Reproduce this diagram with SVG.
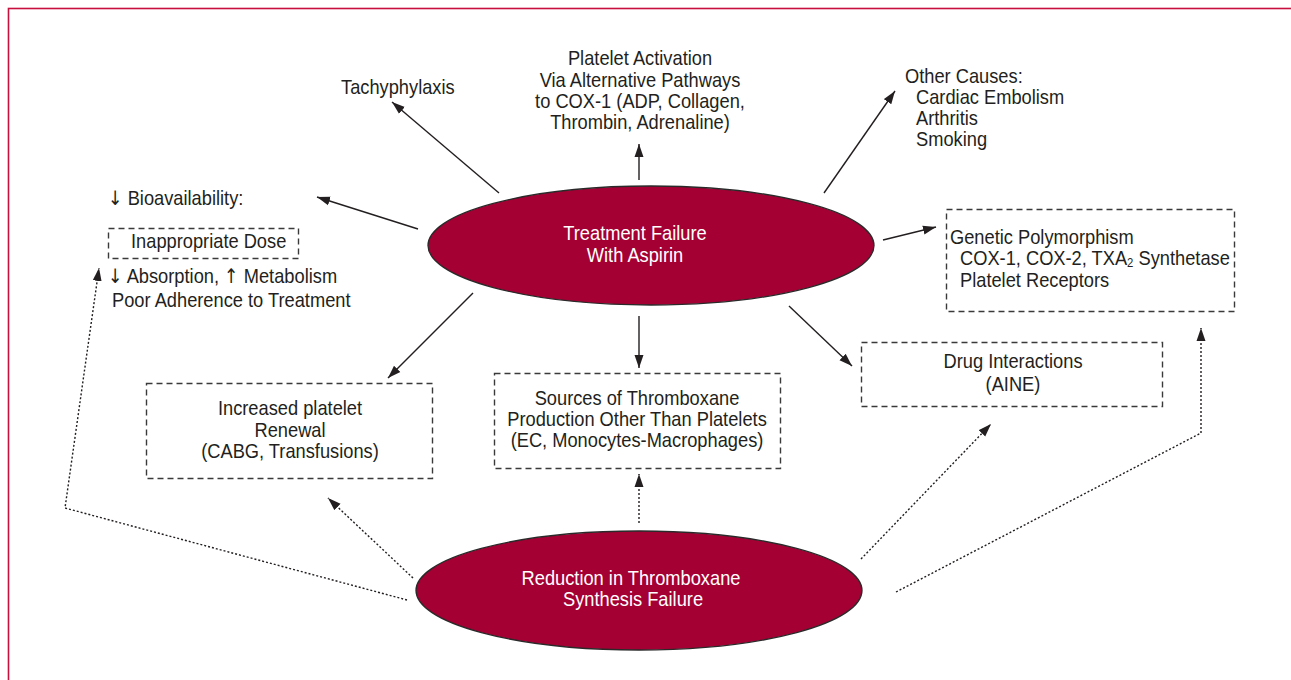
<svg xmlns="http://www.w3.org/2000/svg" width="1291" height="680" viewBox="0 0 1291 680">
<style>
.t{font-family:"Liberation Sans",Arial,sans-serif;font-size:21px;fill:#231f20}
.w{font-family:"Liberation Sans",Arial,sans-serif;font-size:21px;fill:#ffffff}
.m{text-anchor:middle}
.ar{font-family:"DejaVu Sans",sans-serif;font-size:20px}
.box{fill:none;stroke:#3a3a3a;stroke-width:1.4;stroke-dasharray:6 4}
.ell{fill:#a50034;stroke:#2a2a2a;stroke-width:1.3}
.sol{fill:none;stroke:#231f20;stroke-width:1.4;marker-end:url(#ah)}
.dota{fill:none;stroke:#231f20;stroke-width:1.4;stroke-dasharray:2 2;marker-end:url(#ah)}
</style>
<defs>
<marker id="ah" markerUnits="userSpaceOnUse" markerWidth="14" markerHeight="10" refX="13" refY="5" orient="auto">
<path d="M0,0.5 L13,5 L0,9.5 z" fill="#231f20"/>
</marker>
</defs>
<rect x="0" y="0" width="1291" height="680" fill="#ffffff"/>
<rect x="8.5" y="8.5" width="1300" height="700" fill="none" stroke="#c8103e" stroke-width="1.6"/>

<g id="connectors">
<path class="sol" d="M499,193 L392,102"/>
<path class="sol" d="M639,180 L639,144"/>
<path class="sol" d="M824,193 L895,91"/>
<path class="sol" d="M418,229 L317,197"/>
<path class="sol" d="M883,240 L936,227"/>
<path class="sol" d="M473,293 L388,378"/>
<path class="sol" d="M639,316 L639,368"/>
<path class="sol" d="M789,306 L852,366"/>
<path class="dota" d="M407,600 L65,508 L99,268"/>
<path class="dota" d="M413,578 L328,498"/>
<path class="dota" d="M639,523 L639,474"/>
<path class="dota" d="M861,559 L991,424"/>
<path class="dota" d="M896,592 L1201,433 L1201,328"/>
</g>

<g id="treatment-failure">
<ellipse class="ell" cx="651" cy="245.5" rx="223" ry="59.5"/>
<text class="w m" transform="translate(635,240) scale(0.87,1)">Treatment Failure</text>
<text class="w m" transform="translate(635,262) scale(0.87,1)">With Aspirin</text>
</g>

<g id="reduction-synthesis">
<ellipse class="ell" cx="639" cy="590.5" rx="223" ry="59.5"/>
<text class="w m" transform="translate(631,585) scale(0.87,1)">Reduction in Thromboxane</text>
<text class="w m" transform="translate(633,606) scale(0.87,1)">Synthesis Failure</text>
</g>

<g id="tachyphylaxis">
<text class="t" transform="translate(341,94) scale(0.87,1)">Tachyphylaxis</text>
</g>

<g id="platelet-activation">
<text class="t m" transform="translate(640,65) scale(0.87,1)">Platelet Activation</text>
<text class="t m" transform="translate(640,87) scale(0.87,1)">Via Alternative Pathways</text>
<text class="t m" transform="translate(640,108) scale(0.87,1)">to COX-1 (ADP, Collagen,</text>
<text class="t m" transform="translate(640,129) scale(0.87,1)">Thrombin, Adrenaline)</text>
</g>

<g id="other-causes">
<text class="t" transform="translate(905,83) scale(0.87,1)">Other Causes:</text>
<text class="t" transform="translate(916,104) scale(0.87,1)">Cardiac Embolism</text>
<text class="t" transform="translate(916,125) scale(0.87,1)">Arthritis</text>
<text class="t" transform="translate(916,146) scale(0.87,1)">Smoking</text>
</g>

<g id="bioavailability">
<text class="t" transform="translate(108,205) scale(0.87,1)"><tspan class="ar">↓</tspan> Bioavailability:</text>
<rect class="box" x="108.5" y="228.5" width="190" height="30"/>
<text class="t" transform="translate(131,248) scale(0.87,1)">Inappropriate Dose</text>
<text class="t" transform="translate(108,283) scale(0.87,1)"><tspan class="ar">↓</tspan> Absorption, <tspan class="ar">↑</tspan> Metabolism</text>
<text class="t" transform="translate(112,307) scale(0.87,1)">Poor Adherence to Treatment</text>
</g>

<g id="genetic-polymorphism">
<rect class="box" x="946.5" y="209.5" width="288" height="102"/>
<text class="t" transform="translate(950,244) scale(0.87,1)">Genetic Polymorphism</text>
<text class="t" transform="translate(960,265) scale(0.87,1)">COX-1, COX-2, TXA<tspan font-size="13" dy="2">2</tspan><tspan dy="-2"> Synthetase</tspan></text>
<text class="t" transform="translate(960,287) scale(0.87,1)">Platelet Receptors</text>
</g>

<g id="increased-renewal">
<rect class="box" x="146.5" y="383.5" width="286" height="95"/>
<text class="t m" transform="translate(290,415) scale(0.87,1)">Increased platelet</text>
<text class="t m" transform="translate(290,437) scale(0.87,1)">Renewal</text>
<text class="t m" transform="translate(290,458) scale(0.87,1)">(CABG, Transfusions)</text>
</g>

<g id="thromboxane-sources">
<rect class="box" x="494.5" y="373.5" width="286" height="95"/>
<text class="t m" transform="translate(637,405) scale(0.87,1)">Sources of Thromboxane</text>
<text class="t m" transform="translate(637,426) scale(0.87,1)">Production Other Than Platelets</text>
<text class="t m" transform="translate(637,447) scale(0.87,1)">(EC, Monocytes-Macrophages)</text>
</g>

<g id="drug-interactions">
<rect class="box" x="861.5" y="342.5" width="301" height="64"/>
<text class="t m" transform="translate(1013,368) scale(0.87,1)">Drug Interactions</text>
<text class="t m" transform="translate(1013,391) scale(0.87,1)">(AINE)</text>
</g>
</svg>
